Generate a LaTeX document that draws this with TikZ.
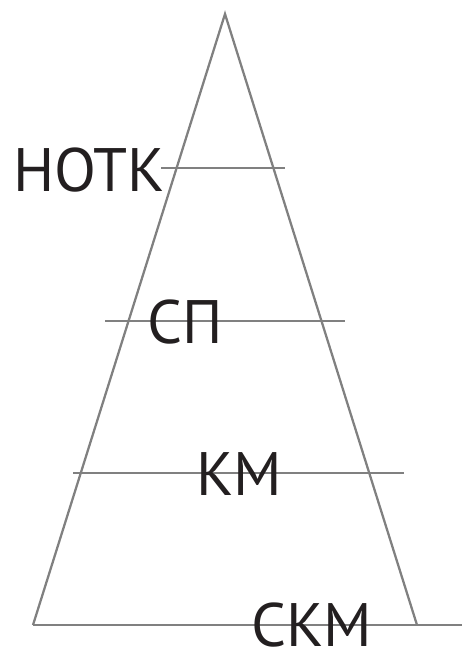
\documentclass[tikz,border=0pt]{standalone}
\usepackage{fontspec}
\setmainfont{PT Sans}
\usepackage{xcolor}
\definecolor{lineGray}{HTML}{808080}
\definecolor{textDark}{HTML}{231F20}
\usetikzlibrary{positioning,calc}
\tikzset{
  edgeLine/.style={
    draw=lineGray,
    line width=1.7pt
 },
  levelLabel/.style={
    inner sep=0pt,
    anchor=base west,
    text depth=0pt,
    text=textDark,
    font=\fontsize{46}{50}\selectfont
 }
}

\begin{document}
\begin{tikzpicture}[x=0.75pt,y=-0.75pt]
            \useasboundingbox (0,0) rectangle (462,652);

            % triangle corners
            \coordinate (apex) at (225,14);
            \coordinate (baseL) at (33,625);
            \coordinate (baseR) at (417,625);

            % ends of the level lines
            \coordinate (l1a) at (161,168);
            \coordinate (l1b) at (285,168);
            \coordinate (l2a) at (105,321);
            \coordinate (l2b) at (345,321);
            \coordinate (l3a) at (73,473);
            \coordinate (l3b) at (404,473);
            \coordinate (l4b) at (462,625);

            \draw[edgeLine] (baseL) -- (apex) -- (baseR);
            \draw[edgeLine] (l1a) -- (l1b);
            \draw[edgeLine] (l2a) -- (l2b);
            \draw[edgeLine] (l3a) -- (l3b);
            \draw[edgeLine] (baseL) -- (l4b);

            \node[levelLabel] (notk) at (13,192) {НОТК};
            \node[levelLabel] (sp) at (147,343) {СП};
            \node[levelLabel] (km) at (196,495) {КМ};
            \node[levelLabel] (skm) at (251,646) {СКМ};
        \end{tikzpicture}
\end{document}
